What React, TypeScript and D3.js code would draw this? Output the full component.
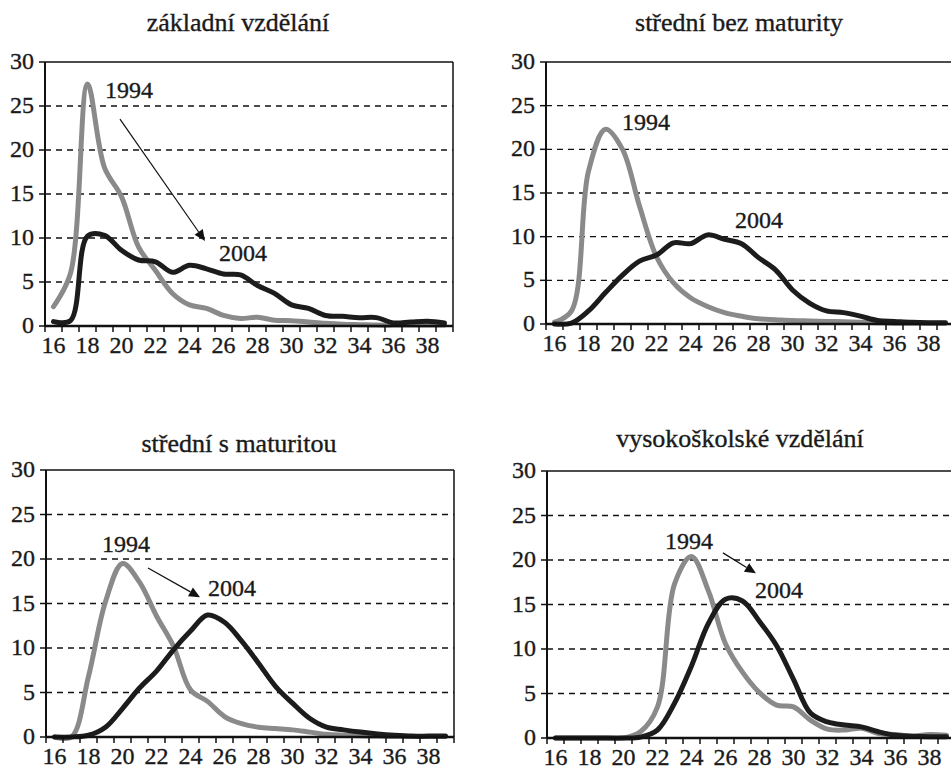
import * as d3 from "d3";

// age categories on the x axis
const AGES = [16, 17, 18, 19, 20, 21, 22, 23, 24, 25, 26, 27, 28, 29, 30, 31, 32, 33, 34, 35, 36, 37, 38, 39];
const X_LABELS = [16, 18, 20, 22, 24, 26, 28, 30, 32, 34, 36, 38];
const Y_TICKS = [0, 5, 10, 15, 20, 25, 30];
const TITLES = ["základní vzdělání", "střední bez maturity", "střední s maturitou", "vysokoškolské vzdělání"];

// share of births by age of mother (%), 1994 vs 2004
const ZAKLADNI_1994 = [2.2, 6, 27.5, 18, 14.7, 9, 6.3, 3.7, 2.4, 2, 1.2, 0.85, 1, 0.65, 0.6, 0.45, 0.3, 0.2, 0.15, 0.1, 0.1, 0.1, 0.1, 0.1];
const ZAKLADNI_2004 = [0.5, 0.6, 10.2, 10.3, 8.6, 7.5, 7.3, 6.1, 6.9, 6.5, 5.9, 5.8, 4.6, 3.7, 2.4, 2, 1.2, 1.1, 0.95, 0.95, 0.35, 0.45, 0.55, 0.35];
const BEZ_MAT_1994 = [0.2, 1.5, 17.5, 22.3, 20, 13.5, 7.7, 4.7, 3, 2, 1.3, 0.9, 0.6, 0.5, 0.4, 0.35, 0.3, 0.25, 0.2, 0.15, 0.1, 0.1, 0.1, 0.1];
const BEZ_MAT_2004 = [0, 0.1, 1.5, 3.6, 5.6, 7.2, 7.9, 9.3, 9.2, 10.2, 9.7, 9.2, 7.6, 6.2, 3.9, 2.4, 1.5, 1.3, 0.9, 0.4, 0.3, 0.2, 0.15, 0.15];
const S_MAT_1994 = [0, 0, 6.8, 15.2, 19.5, 17.4, 13.6, 10.2, 5.3, 4, 2.3, 1.5, 1.1, 0.95, 0.8, 0.55, 0.3, 0.2, 0.15, 0.1, 0.05, 0.05, 0.05, 0.05];
const S_MAT_2004 = [0, 0, 0.2, 1.1, 3.2, 5.5, 7.4, 9.8, 11.9, 13.7, 12.9, 10.8, 8.3, 5.7, 3.8, 2.1, 1.1, 0.8, 0.55, 0.35, 0.2, 0.1, 0.1, 0.1];
const VS_1994 = [0, 0, 0, 0, 0, 0.7, 3.5, 17.3, 20.4, 16.5, 10.6, 7.4, 5.1, 3.7, 3.5, 2, 1, 0.9, 1.1, 0.5, 0.4, 0.2, 0.4, 0.3];
const VS_2004 = [0, 0, 0, 0, 0, 0.1, 0.9, 3.9, 8.1, 12.9, 15.6, 15.4, 13.1, 10.4, 6.6, 2.8, 1.8, 1.45, 1.25, 0.7, 0.3, 0.2, 0.15, 0.15];

// annotation positions in data units: [age, value]
const LABEL_1994 = [[19.03, 25.9], [19.97, 22.2], [18.79, 20.8], [22.44, 21.2]];
const LABEL_2004 = [[25.74, 7.4], [26.62, 11.0], [25.03, 15.8], [27.74, 15.7]];
const ARROWS = [[[19.91, 23.5], [24.91, 9.66]], null, [[21.5, 19.0], [24.56, 15.7]], [[25.85, 20.8], [27.79, 18.5]]];

const SERIES_1994 = [ZAKLADNI_1994, BEZ_MAT_1994, S_MAT_1994, VS_1994];
const SERIES_2004 = [ZAKLADNI_2004, BEZ_MAT_2004, S_MAT_2004, VS_2004];

// panel frames (px)
const LAYOUT = [
  { left: 45, top: 62, height: 264, titleY: 31 },
  { left: 546, top: 62, height: 262, titleY: 31 },
  { left: 46, top: 470, height: 267, titleY: 452 },
  { left: 547, top: 471, height: 267, titleY: 447 },
];
const BAND = 17;
const FONT = "Liberation Serif, DejaVu Serif, serif";
const GRAY = "#8a8a8a";
const BLACK = "#1c1c1c";
const TEXT = "#1a1a1a";

const Panel = ({ idx }: { idx: number }) => {
  const { left, top, height, titleY } = LAYOUT[idx];
  const width = AGES.length * BAND;
  const bottom = top + height;

  const xScale = d3.scaleBand<number>().domain(AGES).range([left, left + width]);
  const xc = (a: number) => left + (a - AGES[0] + 0.5) * xScale.step();
  const yScale = d3.scaleLinear().domain([0, 30]).range([bottom, top]);

  const line = d3
    .line<number>()
    .x((_, i) => (xScale(AGES[i]) as number) + xScale.bandwidth() / 2)
    .y((d) => yScale(d))
    .curve(d3.curveCatmullRom.alpha(0.5));

  const arrow = ARROWS[idx];
  let arrowEl = null;
  if (arrow) {
    const x1 = xc(arrow[0][0]);
    const y1 = yScale(arrow[0][1]);
    const x2 = xc(arrow[1][0]);
    const y2 = yScale(arrow[1][1]);
    const ang = Math.atan2(y2 - y1, x2 - x1);
    const hl = 11;
    const hw = 5;
    const bx = x2 - hl * Math.cos(ang);
    const by = y2 - hl * Math.sin(ang);
    const px = -Math.sin(ang) * hw;
    const py = Math.cos(ang) * hw;
    arrowEl = (
      <g>
        <line x1={x1} y1={y1} x2={bx} y2={by} stroke="#111" strokeWidth={1.2} />
        <path d={`M${x2},${y2}L${bx + px},${by + py}L${bx - px},${by - py}Z`} fill="#111" />
      </g>
    );
  }

  const txt = { fontFamily: FONT, fill: TEXT, stroke: TEXT, strokeWidth: 0.35 };

  return (
    <g>
      <text x={left + 193} y={titleY} textAnchor="middle" fontSize={26} style={txt}>
        {TITLES[idx]}
      </text>

      {/* grid */}
      {Y_TICKS.filter((t) => t > 0 && t < 30).map((t) => (
        <line key={t} x1={left} x2={left + width} y1={yScale(t)} y2={yScale(t)} stroke="#111" strokeWidth={1.3} strokeDasharray="6,5" />
      ))}
      <line x1={left} x2={left + width} y1={top} y2={top} stroke="#111" strokeWidth={1.5} />
      <line x1={left + width} x2={left + width} y1={top} y2={bottom} stroke="#111" strokeWidth={1.5} />

      {/* y axis */}
      <line x1={left} x2={left} y1={top} y2={bottom} stroke="#111" strokeWidth={2} />
      {Y_TICKS.map((t) => (
        <g key={t}>
          <line x1={left - 6} x2={left} y1={yScale(t)} y2={yScale(t)} stroke="#111" strokeWidth={1.5} />
          <text x={left - 11} y={yScale(t) + 7} textAnchor="end" fontSize={24} style={txt}>
            {t}
          </text>
        </g>
      ))}

      {/* lines */}
      <path d={line(SERIES_1994[idx]) || ""} fill="none" stroke={GRAY} strokeWidth={5} strokeLinejoin="round" strokeLinecap="round" />
      <path d={line(SERIES_2004[idx]) || ""} fill="none" stroke={BLACK} strokeWidth={5} strokeLinejoin="round" strokeLinecap="round" />

      {/* x axis */}
      <line x1={left} x2={left + width} y1={bottom} y2={bottom} stroke="#111" strokeWidth={2.5} />
      {[...AGES, AGES[AGES.length - 1] + 1].map((a) => (
        <line key={a} x1={left + (a - AGES[0]) * BAND} x2={left + (a - AGES[0]) * BAND} y1={bottom} y2={bottom + 6} stroke="#111" strokeWidth={1.5} />
      ))}
      {X_LABELS.map((a) => (
        <text key={a} x={(xScale(a) as number) + xScale.bandwidth() / 2} y={bottom + 27} textAnchor="middle" fontSize={24} style={txt}>
          {a}
        </text>
      ))}

      {/* annotations */}
      <text x={xc(LABEL_1994[idx][0])} y={yScale(LABEL_1994[idx][1])} fontSize={24} style={txt}>
        1994
      </text>
      <text x={xc(LABEL_2004[idx][0])} y={yScale(LABEL_2004[idx][1])} fontSize={24} style={txt}>
        2004
      </text>
      {arrowEl}
    </g>
  );
};

export default function App() {
  return (
    <svg width={951} height={769} style={{ position: "absolute", left: 0, top: 0, background: "#fff" }}>
      <rect width={951} height={769} fill="#fff" />
      {[0, 1, 2, 3].map((i) => (
        <Panel key={i} idx={i} />
      ))}
    </svg>
  );
}
